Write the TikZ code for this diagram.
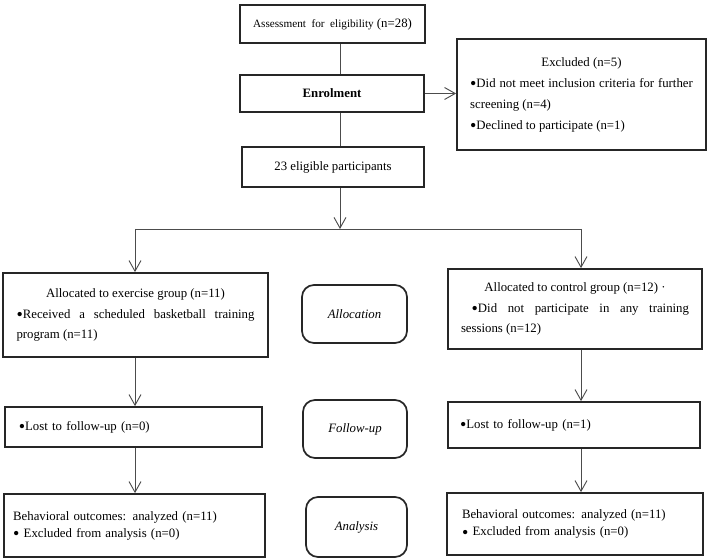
\documentclass[tikz,border=0pt]{standalone}
\usepackage{fontspec}
\setmainfont{Liberation Serif}
\usetikzlibrary{arrows.meta}
\newcommand{\bul}{\raisebox{-2.1pt}{\fontsize{13.5}{0}\selectfont\textbullet}}
\tikzset{%
  >={Straight Barb[length=8pt,width=9pt]}, % open arrow heads
  box/.style={draw=black!85, line width=1.3pt, inner sep=0pt,
    font=\fontsize{9.6}{15.5}\selectfont},%
  phase/.style={box, rounded corners=9pt,
    font=\fontsize{9.6}{12}\selectfont\itshape},%
  link/.style={draw=black!70, line width=0.7pt},%
  arr/.style={link, ->}%
}

\begin{document}
\begin{tikzpicture}[x=0.75pt,y=-0.75pt]
  \useasboundingbox (0,0) rectangle (709,559);
  % enrolment
  \node[box, minimum width=138.75pt, minimum height=28.5pt] (assess) at (332.5,24)
    {{\fontsize{8.4}{10}\selectfont Assessment\ \ for\ \ eligibility} (n=28)};
  \node[box, minimum width=138pt, minimum height=27.75pt] (enrol) at (332,93.5)
    {\textbf{Enrolment}};
  \node[box, minimum width=136.5pt, minimum height=30pt] (elig) at (333,167)
    {23 eligible participants};
  \node[box, minimum width=186.75pt, minimum height=83.25pt, text width=167pt,
    align=justify, font=\fontsize{9.6}{15.75}\selectfont] (excl) at (581.5,94.5)
    {{\centering Excluded (n=5)\par}
     \bul Did not meet inclusion criteria for further\linebreak
     screening (n=4)\par
     \bul Declined to participate (n=1)};
  % allocation
  \node[box, minimum width=198.75pt, minimum height=63pt, text width=178.5pt,
    align=justify] (allocE) at (135.5,315)
    {{\centering Allocated to exercise group (n=11)\par}
     \bul Received a scheduled basketball training\linebreak
     program (n=11)};
  \node[phase, minimum width=78.75pt, minimum height=43.5pt] (allocP) at (354.5,314)
    {Allocation};
  \node[box, minimum width=190.5pt, minimum height=60pt, text width=171pt,
    align=justify] (allocC) at (575,309)
    {{\centering Allocated to control group (n=12) ·\par}
     \ \bul Did not participate in any training\linebreak
     sessions (n=12)};
  % follow-up
  \node[box, minimum width=192.75pt, minimum height=30pt, text width=172pt,
    align=left] (lostE) at (133.5,427)
    {\bul Lost to follow-up (n=0)};
  \node[phase, minimum width=78pt, minimum height=43.5pt] (followP) at (355,429)
    {Follow-up};
  \node[box, minimum width=189pt, minimum height=34.5pt, text width=171pt,
    align=left] (lostC) at (574,425)
    {\bul Lost to follow-up (n=1)};
  % analysis
  \node[box, minimum width=195.75pt, minimum height=47.25pt, text width=182pt,
    align=left, font=\fontsize{9.6}{12.75}\selectfont] (anaE) at (134.5,525.5)
    {Behavioral outcomes: analyzed (n=11)\\
     \bul\ Excluded from analysis (n=0)};
  \node[phase, minimum width=75.75pt, minimum height=45pt] (anaP) at (356.5,527)
    {Analysis};
  \node[box, minimum width=192pt, minimum height=46.5pt, text width=169.5pt,
    align=left, font=\fontsize{9.6}{12.75}\selectfont] (anaC) at (575,524)
    {Behavioral outcomes: analyzed (n=11)\\
     \bul\ Excluded from analysis (n=0)};
  % split points
  \coordinate (spine) at (340,229);
  \coordinate (splitL) at (135,229);
  \coordinate (splitR) at (581,229);
  % connectors
  \draw[link] (assess.south -| spine) -- (enrol.north -| spine);
  \draw[link] (enrol.south -| spine) -- (elig.north -| spine);
  \draw[arr] (enrol.east) -- (enrol.east -| excl.west);
  \draw[arr] (elig.south -| spine) -- (spine);
  \draw[link] (splitL) -- (splitR);
  \draw[arr] (splitL) -- (allocE.north -| splitL);
  \draw[arr] (splitR) -- (allocC.north -| splitR);
  \draw[arr] (allocE.south -| splitL) -- (lostE.north -| splitL);
  \draw[arr] (allocC.south -| splitR) -- (lostC.north -| splitR);
  \draw[arr] (lostE.south -| splitL) -- (anaE.north -| splitL);
  \draw[arr] (lostC.south -| splitR) -- (anaC.north -| splitR);
\end{tikzpicture}
\end{document}
